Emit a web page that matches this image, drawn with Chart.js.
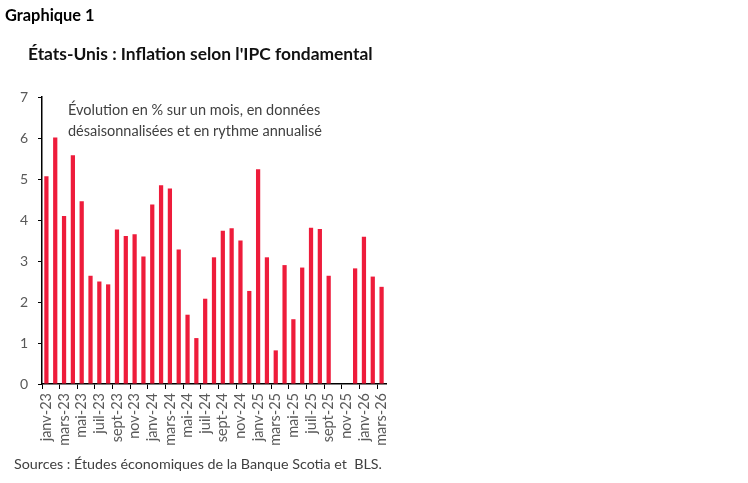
<!DOCTYPE html>
<html>
<head>
<meta charset="utf-8">
<script src="https://cdn.jsdelivr.net/npm/chart.js@4"></script>
<style>
  html, body { margin: 0; padding: 0; background: #fff; }
  #wrap { position: relative; width: 748px; height: 483px; font-family: Lato, sans-serif; }
  #canvas { position: absolute; left: 0; top: 0; }
  .txt { position: absolute; white-space: nowrap; }
  #tag { left: 5px; top: 5px; font-size: 16.4px; font-weight: bold; color: #000; }
  #title { left: 28px; top: 43px; font-size: 17.4px; font-weight: bold; color: #111; }
  #note { left: 68px; top: 99px; font-size: 14.5px; line-height: 21px; color: #404040; }
  #src { left: 14px; top: 455px; font-size: 14.3px; color: #404040; }
</style>
</head>
<body>
<div id="wrap">
  <canvas id="canvas" width="748" height="483"></canvas>
  <div class="txt" id="tag">Graphique 1</div>
  <div class="txt" id="title">États-Unis : Inflation selon l'IPC fondamental</div>
  <div class="txt" id="note">Évolution en % sur un mois, en données<br>désaisonnalisées et en rythme annualisé</div>
  <div class="txt" id="src">Sources : Études économiques de la Banque Scotia et &nbsp;BLS.</div>
</div>
<script>
// Monthly categories, janv-23 to mars-26
const months = ['janv', 'févr', 'mars', 'avr', 'mai', 'juin', 'juil', 'août', 'sept', 'oct', 'nov', 'déc'];
const labels = [];
for (let y = 23; y <= 26; y++) {
  for (let m = 0; m < 12; m++) {
    if (y === 26 && m > 2) break;
    labels.push(`${months[m]}-${y}`);
  }
}

// Core CPI, m/m annualized (%) -- oct/nov 2025 not published
const coreCpi = [
  5.07, 6.01, 4.10, 5.58, 4.46, 2.64, 2.50, 2.43, 3.77, 3.61, 3.65, 3.11,
  4.38, 4.85, 4.77, 3.28, 1.69, 1.12, 2.08, 3.09, 3.74, 3.80, 3.50, 2.27,
  5.24, 3.09, 0.82, 2.90, 1.58, 2.84, 3.81, 3.78, 2.64, null, null, 2.82,
  3.59, 2.62, 2.37
];

const yTicks = [0, 1, 2, 3, 4, 5, 6, 7];

const canvas = document.getElementById('canvas');
new Chart(canvas.getContext('2d'), {
  type: 'bar',
  data: {
    labels,
    datasets: [{
      data: coreCpi,
      backgroundColor: '#ee1c3b',
      barPercentage: 0.48,
      categoryPercentage: 1
    }]
  },
  options: {
    responsive: false,
    animation: false,
    devicePixelRatio: 1,
    layout: { padding: { left: 0, top: 97, right: 362, bottom: 20 } },
    plugins: { legend: { display: false }, tooltip: { enabled: false } },
    scales: {
      x: {
        afterFit: s => { s.height = 79; },
        grid: {
          offset: true,
          drawOnChartArea: false,
          drawTicks: true,
          tickLength: 5,
          color: ctx => (ctx.index % 2 === 0 ? '#000' : 'rgba(0,0,0,0)')
        },
        border: { display: true, color: '#000', width: 1.5 },
        ticks: {
          autoSkip: false,
          maxRotation: 90,
          minRotation: 90,
          padding: 4,
          color: '#595959',
          font: { family: 'Lato', size: 14.5 },
          callback: (v, i) => (i % 2 === 0 ? labels[i] : '')
        }
      },
      y: {
        min: 0,
        max: 7,
        afterFit: s => { s.width = 42; },
        afterBuildTicks: s => { s.ticks = yTicks.map(v => ({ value: v })); },
        grid: { drawOnChartArea: false, drawTicks: true, tickLength: 4, color: '#000' },
        border: { display: true, color: '#000', width: 1.5 },
        ticks: { padding: 10, color: '#595959', font: { family: 'Lato', size: 14 } }
      }
    }
  }
});
</script>
</body>
</html>
